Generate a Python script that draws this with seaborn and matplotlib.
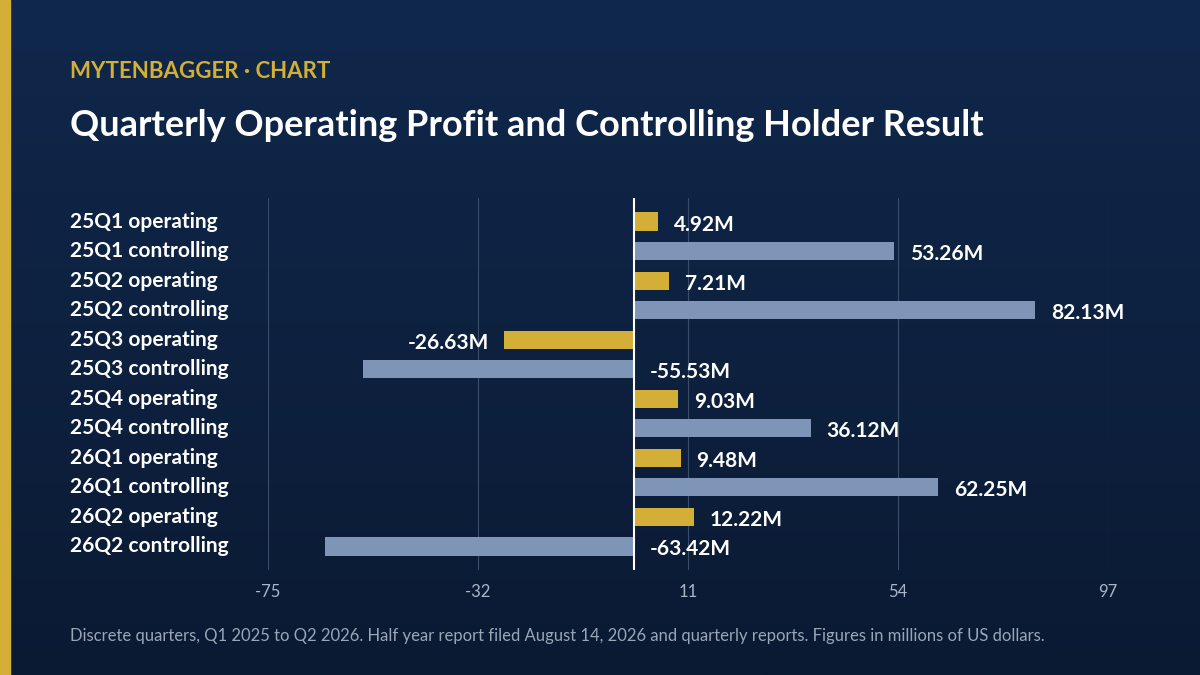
import numpy as np
import pandas as pd
import matplotlib
matplotlib.use("Agg")
import matplotlib.pyplot as plt
import seaborn as sns

labels = ["25Q1 operating", "25Q1 controlling", "25Q2 operating", "25Q2 controlling",
          "25Q3 operating", "25Q3 controlling", "25Q4 operating", "25Q4 controlling",
          "26Q1 operating", "26Q1 controlling", "26Q2 operating", "26Q2 controlling"]
values = [4.92, 53.26, 7.21, 82.13, -26.63, -55.53, 9.03, 36.12, 9.48, 62.25, 12.22, -63.42]
kinds = ["operating", "controlling"] * 6
ticks = [-75, -32, 11, 54, 97]

GOLD = "#d4af37"
STEEL = "#7f95b7"

df = pd.DataFrame({"label": labels, "value": values, "kind": kinds})

sns.set_theme(style="white")
plt.rcParams["font.family"] = ["Lato", "DejaVu Sans"]

fig = plt.figure(figsize=(12, 6.75), dpi=100)

# background gradient
bg = fig.add_axes([0, 0, 1, 1], zorder=-10)
grad = np.linspace(0, 1, 256).reshape(-1, 1)
cmap = matplotlib.colors.LinearSegmentedColormap.from_list("bg", ["#10284c", "#0b1a33"])
bg.imshow(grad, aspect="auto", cmap=cmap, extent=[0, 1, 0, 1])
bg.axvspan(0, 10 / 1200, color=GOLD)
bg.set_axis_off()

ax = fig.add_axes([268 / 1200, 105 / 675, 840 / 1200, 372 / 675])
ax.set_facecolor("none")
sns.barplot(data=df, y="label", x="value", hue="kind", palette={"operating": GOLD, "controlling": STEEL},
            dodge=False, width=0.62, legend=False, saturation=1, linewidth=0, ax=ax, zorder=3)
ax.set_xlim(-75, 97)
ax.set_ylim(11.8, -0.8)
ax.set_xticks(ticks)
ax.set_xticklabels([str(t) for t in ticks], color="#aab6c8", fontsize=12)
ax.tick_params(axis="x", length=0, pad=10)
ax.set_yticks(range(len(labels)))
ax.set_yticklabels([])
ax.tick_params(axis="y", length=0)
ax.set_xlabel("")
ax.set_ylabel("")
for s in ax.spines.values():
    s.set_visible(False)
ax.grid(axis="x", color="#3a4d6b", linewidth=0.8, zorder=0)
ax.axvline(0, color="white", linewidth=1.5, zorder=4)

# category labels, left aligned at figure margin
trans = matplotlib.transforms.blended_transform_factory(fig.transFigure, ax.transData)
for i, lab in enumerate(labels):
    ax.text(70 / 1200, i, lab, transform=trans, color="white", fontsize=15, fontweight="bold",
            va="center", ha="left", clip_on=False)

for i, v in enumerate(values):
    txt = f"{v:.2f}M"
    if v >= 0:
        ax.text(v + 3.2, i + 0.1, txt, color="white", fontsize=15, fontweight="bold", va="center", ha="left", clip_on=False)
    elif v < -40:
        ax.text(3.2, i + 0.1, txt, color="white", fontsize=15, fontweight="bold", va="center", ha="left")
    else:
        ax.text(v - 3.2, i + 0.1, txt, color="white", fontsize=15, fontweight="bold", va="center", ha="right")

fig.text(70 / 1200, 1 - 72 / 675, "MYTENBAGGER · CHART", color=GOLD, fontsize=16, fontweight="bold", va="center")
fig.text(70 / 1200, 1 - 125 / 675, "Quarterly Operating Profit and Controlling Holder Result", color="white",
         fontsize=26, fontweight="bold", va="center")
fig.text(70 / 1200, 1 - 636 / 675,
         "Discrete quarters, Q1 2025 to Q2 2026. Half year report filed August 14, 2026 and quarterly reports. Figures in millions of US dollars.",
         color="#9aa6b8", fontsize=12, va="center")

fig.savefig("out.png", dpi=100)
